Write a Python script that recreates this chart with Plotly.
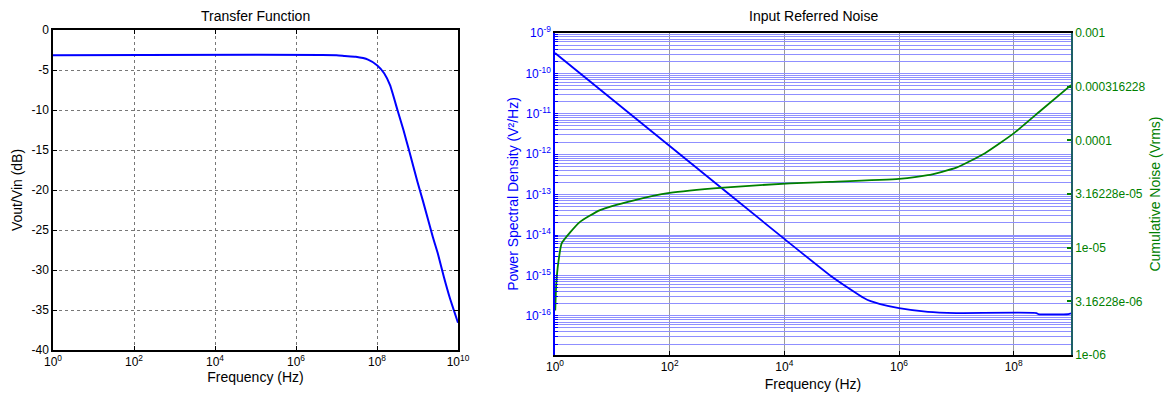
import plotly.graph_objects as go

# ---------------- data ----------------
tf_freq = [1, 1e7, 1.6e7, 3e7, 6e7, 1e8, 1.5e8, 2.1e8, 3.2e8, 4.5e8, 6.3e8,
           1e9, 1.35e9, 2.4e9, 3.2e9, 4.5e9, 6.3e9, 1e10]
tf_gain_db = [-3.15, -3.15, -3.25, -3.35, -3.7, -4.4, -5.4, -6.9, -10.0, -12.5, -15.2,
              -19.0, -21.3, -25.9, -28.0, -30.9, -33.5, -36.6]

psd_freq = [1, 1e2, 1e4, 6.3e4, 1.5e5, 2.4e5, 3.2e5, 4.7e5, 1e6, 3.2e6, 1e7, 2.5e8, 2.7e8, 9e8, 1e9]
psd_vals = [3.2e-10, 1.6e-12, 8e-15, 1e-15, 4.3e-16, 2.8e-16, 2.3e-16, 1.95e-16, 1.55e-16,
            1.25e-16, 1.17e-16, 1.17e-16, 1.1e-16, 1.1e-16, 1.15e-16]

cum_freq = [1.01, 1.05, 1.14, 1.31, 1.82, 2.73, 6.1, 23, 100, 870, 1.26e4, 6.3e4,
            1e6, 3.16e6, 1e7, 3.16e7, 1e8, 3.16e8, 1e9]
cum_vals = [2.6e-6, 4.5e-6, 7.2e-6, 1.1e-5, 1.38e-5, 1.74e-5, 2.24e-5, 2.75e-5, 3.24e-5,
            3.63e-5, 3.98e-5, 4.1e-5, 4.37e-5, 4.73e-5, 5.56e-5, 7.59e-5, 1.16e-4,
            1.95e-4, 3.27e-4]

tf_xticks = [1, 1e2, 1e4, 1e6, 1e8, 1e10]
tf_xtext = ["10<sup>0</sup>", "10<sup>2</sup>", "10<sup>4</sup>", "10<sup>6</sup>",
            "10<sup>8</sup>", "10<sup>10</sup>"]
tf_yticks = [0, -5, -10, -15, -20, -25, -30, -35, -40]
tf_ytext = ["0", "-5", "-10", "-15", "-20", "-25", "-30", "-35", "-40"]

n_xticks = [1, 1e2, 1e4, 1e6, 1e8]
n_xtext = ["10<sup>0</sup>", "10<sup>2</sup>", "10<sup>4</sup>", "10<sup>6</sup>", "10<sup>8</sup>"]
psd_decades = [-9, -10, -11, -12, -13, -14, -15, -16]
cum_ticks = [1e-3, 3.16228e-4, 1e-4, 3.16228e-5, 1e-5, 3.16228e-6, 1e-6]
cum_text = ["0.001", "0.000316228", "0.0001", "3.16228e-05", "1e-05", "3.16228e-06", "1e-06"]

# PSD axis: gridline at every 1..9 x decade, labels only on decades
psd_tickvals = []
psd_ticktext = []
for e in range(-17, -8):
    for m in range(1, 10):
        v = m * 10.0 ** e
        if v > 1.0001e-9 or v < 1.05e-17:
            continue
        psd_tickvals.append(v)
        psd_ticktext.append(f"10<sup>{e}</sup>" if (m == 1 and e in psd_decades) else "")

FONT = "Liberation Sans, Arial, sans-serif"
W, H = 1166, 396
BLUE = "#0000ff"
GREEN = "#008000"

fig = go.Figure()

fig.add_trace(go.Scatter(x=tf_freq, y=tf_gain_db, mode="lines",
                         line=dict(color=BLUE, width=2, shape="spline", smoothing=0.5),
                         xaxis="x", yaxis="y", showlegend=False))
fig.add_trace(go.Scatter(x=psd_freq, y=psd_vals, mode="lines",
                         line=dict(color=BLUE, width=1.8, shape="spline", smoothing=0.5),
                         xaxis="x2", yaxis="y2", showlegend=False))
fig.add_trace(go.Scatter(x=cum_freq, y=cum_vals, mode="lines",
                         line=dict(color=GREEN, width=1.8, shape="spline", smoothing=0.5),
                         xaxis="x2", yaxis="y3", showlegend=False))

tick_font = dict(family=FONT, size=12, color="black")
title_font = dict(family=FONT, size=14, color="black")

fig.update_layout(
    width=W, height=H,
    margin=dict(l=0, r=0, t=0, b=0),
    paper_bgcolor="white", plot_bgcolor="white",
    font=dict(family=FONT),
    xaxis=dict(
        type="log", range=[0, 10], domain=[53 / W, 458 / W], anchor="y",
        tickvals=tf_xticks, ticktext=tf_xtext, tickfont=tick_font,
        ticks="inside", ticklen=4, tickcolor="black",
        showline=True, linecolor="black", linewidth=1.5, mirror="ticks",
        showgrid=True, gridcolor="#777777", griddash="dot", gridwidth=1,
        zeroline=False, automargin=False,
        title=dict(text="Frequency (Hz)", font=title_font, standoff=4),
    ),
    yaxis=dict(
        range=[-40, 0], domain=[1 - 350 / H, 1 - 30 / H], anchor="x",
        tickvals=tf_yticks, ticktext=tf_ytext, tickfont=tick_font,
        ticks="inside", ticklen=4, tickcolor="black",
        showline=True, linecolor="black", linewidth=1.5, mirror="ticks",
        showgrid=True, gridcolor="#777777", griddash="dot", gridwidth=1,
        zeroline=False, automargin=False,
        title=dict(text="Vout/Vin (dB)", font=title_font, standoff=6),
    ),
    xaxis2=dict(
        type="log", range=[0, 9], domain=[555 / W, 1071 / W], anchor="y2",
        tickvals=n_xticks, ticktext=n_xtext, tickfont=tick_font,
        ticks="inside", ticklen=4, tickcolor="black",
        showline=True, linecolor="black", linewidth=1.5, mirror=True,
        showgrid=True, gridcolor="#9a9a9a", gridwidth=1,
        zeroline=False, automargin=False,
        title=dict(text="Frequency (Hz)", font=title_font, standoff=6),
    ),
    yaxis2=dict(
        type="log", range=[-16.97, -9], domain=[1 - 355 / H, 1 - 33 / H], anchor="x2",
        tickmode="array", tickvals=psd_tickvals, ticktext=psd_ticktext,
        tickfont=dict(family=FONT, size=12, color=BLUE),
        ticks="inside", ticklen=3, tickcolor=BLUE,
        showline=True, linecolor=BLUE, linewidth=1.5,
        showgrid=True, gridcolor="#8f8fff", gridwidth=1,
        zeroline=False, automargin=False,
        title=dict(text="Power Spectral Density (V²/Hz)",
                   font=dict(family=FONT, size=14, color=BLUE), standoff=3),
    ),
    yaxis3=dict(
        type="log", range=[-6, -3], overlaying="y2", side="right", anchor="x2",
        tickvals=cum_ticks, ticktext=cum_text,
        tickfont=dict(family=FONT, size=12, color=GREEN),
        ticks="inside", ticklen=4, tickcolor=GREEN, tickwidth=2,
        showline=True, linecolor="#1d5f66", linewidth=1.5,
        showgrid=False, zeroline=False, automargin=False,
        title=dict(text="Cumulative Noise (Vrms)",
                   font=dict(family=FONT, size=14, color=GREEN), standoff=6),
    ),
    annotations=[
        dict(text="Transfer Function", x=255 / W, y=1 - 16 / H, xref="paper", yref="paper",
             xanchor="center", yanchor="middle", showarrow=False,
             font=dict(family=FONT, size=14, color="black")),
        dict(text="Input Referred Noise", x=813 / W, y=1 - 16 / H, xref="paper", yref="paper",
             xanchor="center", yanchor="middle", showarrow=False,
             font=dict(family=FONT, size=14, color="black")),
    ],
)

fig.write_html("out.html", config={"displayModeBar": False},
               post_script="document.body.style.margin='0';document.body.style.overflow='hidden';")
